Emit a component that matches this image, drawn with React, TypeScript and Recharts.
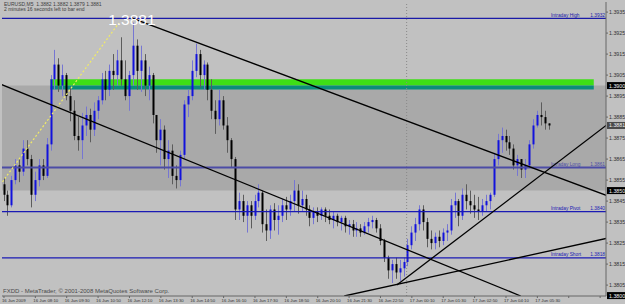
import {
  ComposedChart,
  Bar,
  XAxis,
  YAxis,
  ReferenceLine,
  ReferenceArea,
  ReferenceDot,
} from "recharts";

// EURUSD M5 bars (one slot per bar)
const opens = [
  1.3853, 1.3848, 1.3843, 1.3855, 1.3862, 1.3859, 1.387, 1.3865, 1.3848, 1.3855,
  1.3862, 1.3857, 1.3872, 1.3903, 1.391, 1.39, 1.3905, 1.3895, 1.3888, 1.3876,
  1.3874, 1.3881, 1.3886, 1.3879, 1.3888, 1.3893, 1.3903, 1.3898, 1.3907, 1.3905,
  1.3912, 1.3903, 1.3895, 1.3905, 1.3919, 1.3907, 1.3912, 1.39, 1.3905, 1.3886,
  1.3874, 1.3879, 1.3865, 1.3869, 1.3857, 1.3855, 1.3867, 1.3891, 1.3895, 1.3907,
  1.3915, 1.3905, 1.391, 1.3898, 1.3888, 1.3884, 1.3893, 1.3881, 1.3874, 1.3865,
  1.3841, 1.3845, 1.3838, 1.3843, 1.3838, 1.3845, 1.3849, 1.3834, 1.3831, 1.3841,
  1.3836, 1.3838, 1.3843, 1.3841, 1.3845, 1.385, 1.3843, 1.3846, 1.3841, 1.3837,
  1.384, 1.3838, 1.3841, 1.3838, 1.3836, 1.3838, 1.3835, 1.3837, 1.3833, 1.3834,
  1.3831, 1.3832, 1.383, 1.3833, 1.3835, 1.3836, 1.3832, 1.3826, 1.3818, 1.3812,
  1.3815, 1.3811, 1.3813, 1.3816, 1.3824, 1.383, 1.3834, 1.3841, 1.3835, 1.3827,
  1.3825, 1.3828, 1.3826, 1.383, 1.3831, 1.3843, 1.3845, 1.3838, 1.3848, 1.3845,
  1.3843, 1.3841, 1.384, 1.3843, 1.3845, 1.3848, 1.3865, 1.3874, 1.3876, 1.3873,
  1.387, 1.3862, 1.3865, 1.386, 1.3862, 1.3872, 1.3881, 1.3886, 1.3885, 1.3882,
];
const highs = [
  1.3856, 1.385, 1.3857, 1.3865, 1.3865, 1.3874, 1.3874, 1.3867, 1.3859, 1.3865,
  1.3865, 1.3875, 1.3905, 1.3917, 1.3913, 1.391, 1.3906, 1.3899, 1.3893, 1.3885,
  1.3887, 1.389, 1.3889, 1.3892, 1.3895, 1.3906, 1.3907, 1.391, 1.3915, 1.3917,
  1.3923, 1.3912, 1.3907, 1.393, 1.3922, 1.3919, 1.3915, 1.3909, 1.3906, 1.3886,
  1.3884, 1.3881, 1.3874, 1.3872, 1.3862, 1.3869, 1.3893, 1.3898, 1.3912, 1.392,
  1.3917, 1.3912, 1.3911, 1.3903, 1.3893, 1.3898, 1.3895, 1.3885, 1.3875, 1.3866,
  1.3849, 1.3848, 1.3845, 1.3845, 1.3848, 1.3853, 1.385, 1.3841, 1.3843, 1.3844,
  1.3843, 1.3846, 1.3847, 1.3848, 1.3855, 1.3853, 1.385, 1.3848, 1.3843, 1.3842,
  1.3842, 1.3842, 1.3842, 1.3841, 1.384, 1.3839, 1.3838, 1.3838, 1.3836, 1.3836,
  1.3835, 1.3834, 1.3835, 1.3837, 1.3838, 1.3837, 1.3834, 1.3827, 1.3819, 1.3817,
  1.3818, 1.3817, 1.3818, 1.3827, 1.3833, 1.3837, 1.3843, 1.3843, 1.3837, 1.3831,
  1.383, 1.3831, 1.3832, 1.3834, 1.3846, 1.3849, 1.3846, 1.3851, 1.3853, 1.385,
  1.3848, 1.3847, 1.3846, 1.3848, 1.3849, 1.3868, 1.3877, 1.388, 1.3879, 1.3876,
  1.3872, 1.3867, 1.3865, 1.3865, 1.3874, 1.3884, 1.3888, 1.3892, 1.3888, 1.3882,
];
const lows = [
  1.3845, 1.3838, 1.3842, 1.3853, 1.3854, 1.3857, 1.3862, 1.3842, 1.3845, 1.3852,
  1.3855, 1.3856, 1.3869, 1.3898, 1.3897, 1.3895, 1.3893, 1.3883, 1.3874, 1.3869,
  1.3865, 1.3876, 1.3873, 1.3876, 1.3884, 1.3891, 1.3893, 1.3895, 1.3898, 1.39,
  1.39, 1.3893, 1.3888, 1.39, 1.3898, 1.3897, 1.3895, 1.3893, 1.3882, 1.3868,
  1.3862, 1.386, 1.3856, 1.3853, 1.3851, 1.3852, 1.3865, 1.3885, 1.3893, 1.3904,
  1.3899, 1.3898, 1.3893, 1.3884, 1.3877, 1.3881, 1.3879, 1.3868, 1.3861, 1.3836,
  1.3836, 1.3835, 1.383, 1.3832, 1.3836, 1.3842, 1.383, 1.3826, 1.3827, 1.3831,
  1.3829, 1.3835, 1.3836, 1.3838, 1.384, 1.3839, 1.384, 1.3838, 1.3833, 1.3834,
  1.3835, 1.3836, 1.3835, 1.3834, 1.3832, 1.3833, 1.3831, 1.383, 1.3829, 1.3828,
  1.3828, 1.3828, 1.3829, 1.383, 1.3832, 1.383, 1.3824, 1.3816, 1.3808, 1.3806,
  1.3808, 1.3807, 1.3809, 1.3814, 1.3822, 1.3826, 1.3831, 1.3831, 1.3823, 1.3822,
  1.3822, 1.3823, 1.3824, 1.3826, 1.3829, 1.3837, 1.3833, 1.3836, 1.3841, 1.3839,
  1.3837, 1.3836, 1.3838, 1.384, 1.3841, 1.3847, 1.3862, 1.3868, 1.3869, 1.3867,
  1.386, 1.3857, 1.3856, 1.3856, 1.3861, 1.387, 1.388, 1.3881, 1.3879, 1.3879,
];
const closes = [
  1.3848, 1.3843, 1.3855, 1.3862, 1.3859, 1.387, 1.3865, 1.3848, 1.3855, 1.3862,
  1.3857, 1.3872, 1.3903, 1.391, 1.39, 1.3905, 1.3895, 1.3888, 1.3876, 1.3874,
  1.3881, 1.3886, 1.3879, 1.3888, 1.3893, 1.3903, 1.3898, 1.3907, 1.3905, 1.3912,
  1.3903, 1.3895, 1.3905, 1.3919, 1.3907, 1.3912, 1.39, 1.3905, 1.3886, 1.3874,
  1.3879, 1.3865, 1.3869, 1.3857, 1.3855, 1.3867, 1.3891, 1.3895, 1.3907, 1.3915,
  1.3905, 1.391, 1.3898, 1.3888, 1.3884, 1.3893, 1.3881, 1.3874, 1.3865, 1.3841,
  1.3845, 1.3838, 1.3843, 1.3838, 1.3845, 1.3849, 1.3834, 1.3831, 1.3841, 1.3836,
  1.3838, 1.3843, 1.3841, 1.3845, 1.385, 1.3843, 1.3846, 1.3841, 1.3837, 1.384,
  1.3838, 1.3841, 1.3838, 1.3836, 1.3838, 1.3835, 1.3837, 1.3833, 1.3834, 1.3831,
  1.3832, 1.383, 1.3833, 1.3835, 1.3836, 1.3832, 1.3826, 1.3818, 1.3812, 1.3815,
  1.3811, 1.3813, 1.3816, 1.3824, 1.383, 1.3834, 1.3841, 1.3835, 1.3827, 1.3825,
  1.3828, 1.3826, 1.383, 1.3831, 1.3843, 1.3845, 1.3838, 1.3848, 1.3845, 1.3843,
  1.3841, 1.384, 1.3843, 1.3845, 1.3848, 1.3865, 1.3874, 1.3876, 1.3873, 1.387,
  1.3862, 1.3865, 1.386, 1.3862, 1.3872, 1.3881, 1.3886, 1.3885, 1.3882, 1.3881,
];

const timeLabels = [
  "16 Jun 2009", "16 Jun 08:10", "16 Jun 09:30", "16 Jun 10:50", "16 Jun 12:10",
  "16 Jun 13:30", "16 Jun 14:50", "16 Jun 16:10", "16 Jun 17:30", "16 Jun 18:50",
  "16 Jun 20:10", "16 Jun 21:30", "16 Jun 22:50", "17 Jun 00:10", "17 Jun 01:30",
  "17 Jun 02:50", "17 Jun 04:10", "17 Jun 05:30",
];
const barsPerLabel = 8;
const slotCount = 154; // empty slots to the right of the last bar

const priceTicks = [
  1.3935, 1.3925, 1.3915, 1.3905, 1.3895, 1.3885, 1.3875, 1.3865, 1.3855, 1.3845,
  1.3835, 1.3825, 1.3815, 1.3805,
];
const priceMin = 1.37998;
const priceMax = 1.39398;

// pivot levels drawn by the indicator
const levelNames = ["Intraday High", "Intraday Long", "Intraday Pivot", "Intraday Short"];
const levelPrices = [1.3932, 1.3861, 1.384, 1.3818];

// grey rectangle object and the green zone above it
const boxTop = 1.39;
const boxBottom = 1.385;
const zoneFrom = 12.25;
const zoneTo = 149.9;
const zoneLime = [1.3903, 1.39];
const zoneTeal = [1.39, 1.38981];

// trend lines as [bar index, price] pairs
const trendFrom = [
  [-0.5, 1.39008],
  [32.9, 1.39321],
  [100.0, 1.3805],
  [86.7, 1.37998],
];
const trendTo = [
  [131.4, 1.37998],
  [153.5, 1.38474],
  [153.5, 1.38817],
  [153.5, 1.38274],
];
const projFrom = [-0.5, 1.38526];
const projTo = [29.6, 1.39298];
const daySeparator = 102.5;

const bidPrice = 1.3881;
const axisBoxes = [1.39, 1.385, 1.38];

const data = Array.from({ length: slotCount }, (_, i) =>
  i < closes.length
    ? {
        i,
        open: opens[i],
        high: highs[i],
        low: lows[i],
        close: closes[i],
        range: [lows[i], highs[i]],
      }
    : { i, range: null }
);

function Candle(props: any) {
  const { x, y, width, height, payload } = props;
  if (!payload || payload.high == null) return null;
  const { open, close, high, low } = payload;
  const top0 = Math.min(y, y + height);
  const h = Math.abs(height);
  const span = high - low || 1e-9;
  const toY = (p: number) => top0 + ((high - p) / span) * h;
  const up = close >= open;
  const bTop = toY(Math.max(open, close));
  const bBot = toY(Math.min(open, close));
  const cx = Math.round(x + width / 2) + 0.5;
  return (
    <g>
      <line
        x1={cx}
        x2={cx}
        y1={top0}
        y2={top0 + h}
        stroke={up ? "#7676d2" : "#5c5c5c"}
        strokeWidth={1}
      />
      <rect
        x={cx - 1}
        y={bTop}
        width={2}
        height={Math.max(bBot - bTop, 1)}
        fill={up ? "#1212dc" : "#000000"}
      />
    </g>
  );
}

function TimeTick(props: any) {
  const { x, y, payload } = props;
  const label = timeLabels[payload.value / barsPerLabel] ?? "";
  return (
    <text x={x - 2} y={y + 3.6} fontSize={4.3} fill="#333">
      {label}
    </text>
  );
}

function LevelLabel(props: any) {
  const { viewBox, name, value, color } = props;
  if (!viewBox) return null;
  const { x, y, width } = viewBox;
  return (
    <g fontSize={4.8} fill={color}>
      <text x={x + width - 55} y={y - 1.5}>
        {name}
      </text>
      <text x={x + width - 1} y={y - 1.5} textAnchor="end">
        {value}
      </text>
    </g>
  );
}

function PriceBox(props: any) {
  const { viewBox, text, bg } = props;
  if (!viewBox) return null;
  const { x, y, width } = viewBox;
  return (
    <g>
      <rect x={x + width + 1} y={y - 3.5} width={19} height={7} fill={bg} />
      <text x={x + width + 3} y={y + 2} fontSize={5.3} fill="#f0f0f0">
        {text}
      </text>
    </g>
  );
}

function BigPrice(props: any) {
  const { viewBox, text } = props;
  if (!viewBox) return null;
  const cx = viewBox.x + (viewBox.width || 0) / 2;
  const cy = viewBox.y + (viewBox.height || 0) / 2;
  return (
    <text x={cx} y={cy + 7} textAnchor="middle" fontSize={15.5} fill="#ffffff">
      {text}
    </text>
  );
}

const levelColors = ["#1a1aa8", "#4c4ca6", "#1a1ab4", "#1a1ab4"];

export default function App() {
  return (
    <div
      style={{
        position: "relative",
        width: 625,
        height: 304,
        background: "#c1c1c1",
        fontFamily: "'Liberation Sans', Arial, sans-serif",
        overflow: "hidden",
      }}
    >
      <style>{"body{margin:0}"}</style>
      <ComposedChart
        width={625}
        height={304}
        data={data}
        margin={{ top: 2, right: 0, bottom: 0, left: 2 }}
      >
        <XAxis
          xAxisId="c"
          dataKey="i"
          type="category"
          interval={barsPerLabel - 1}
          height={8}
          tick={(p: any) => <TimeTick {...p} />}
          tickSize={2}
          tickMargin={0}
          axisLine={{ stroke: "#666" }}
          tickLine={{ stroke: "#666" }}
        />
        <XAxis
          xAxisId="n"
          type="number"
          domain={[-0.5, slotCount - 0.5]}
          allowDataOverflow
          hide
        />
        <YAxis
          orientation="right"
          width={19}
          domain={[priceMin, priceMax]}
          allowDataOverflow
          ticks={priceTicks}
          interval={0}
          tickFormatter={(v: number) => v.toFixed(4)}
          tick={{ fontSize: 5.3, fill: "#333" }}
          tickSize={2}
          tickMargin={1}
          axisLine={{ stroke: "#666" }}
          tickLine={{ stroke: "#666" }}
        />

        {/* grey rectangle */}
        <ReferenceArea
          xAxisId="n"
          y1={boxBottom}
          y2={boxTop}
          fill="#a9a9a9"
          fillOpacity={1}
          stroke="none"
          ifOverflow="hidden"
        />
        {/* green zone */}
        <ReferenceArea
          xAxisId="n"
          x1={zoneFrom}
          x2={zoneTo}
          y1={zoneLime[1]}
          y2={zoneLime[0]}
          fill="#3ede16"
          fillOpacity={1}
          stroke="none"
        />
        <ReferenceArea
          xAxisId="n"
          x1={zoneFrom}
          x2={zoneTo}
          y1={zoneTeal[1]}
          y2={zoneTeal[0]}
          fill="#0b8c7a"
          fillOpacity={1}
          stroke="none"
        />

        <ReferenceLine
          xAxisId="n"
          x={daySeparator}
          stroke="#8a8a8a"
          strokeDasharray="1 2"
        />

        <Bar
          xAxisId="c"
          dataKey="range"
          barSize={3}
          shape={(p: any) => <Candle {...p} />}
          isAnimationActive={false}
        />

        {/* pivot levels */}
        {levelPrices.map((p, k) => (
          <ReferenceLine
            key={levelNames[k]}
            xAxisId="n"
            y={p}
            stroke={levelColors[k]}
            strokeWidth={k === 1 ? 2 : 1.2}
            label={(lp: any) => (
              <LevelLabel
                {...lp}
                name={levelNames[k]}
                value={p.toFixed(4)}
                color={levelColors[k]}
              />
            )}
          />
        ))}

        {/* projection line */}
        <ReferenceLine
          xAxisId="n"
          segment={[
            { x: projFrom[0], y: projFrom[1] },
            { x: projTo[0], y: projTo[1] },
          ]}
          stroke="#f2ec66"
          strokeWidth={1.2}
          strokeDasharray="2 2"
          ifOverflow="hidden"
        />

        {/* trend lines */}
        {trendFrom.map((a, k) => (
          <ReferenceLine
            key={"t" + k}
            xAxisId="n"
            segment={[
              { x: a[0], y: a[1] },
              { x: trendTo[k][0], y: trendTo[k][1] },
            ]}
            stroke="#000"
            strokeWidth={1.3}
            ifOverflow="hidden"
          />
        ))}

        <ReferenceDot
          xAxisId="n"
          x={trendFrom[1][0]}
          y={levelPrices[0]}
          r={1}
          fill="none"
          stroke="none"
          label={(lp: any) => <BigPrice {...lp} text={bidPrice.toFixed(4)} />}
        />

        {/* price boxes on the scale */}
        {axisBoxes.map((p) => (
          <ReferenceLine
            key={"b" + p}
            xAxisId="n"
            y={p}
            stroke="none"
            ifOverflow="visible"
            label={(lp: any) => <PriceBox {...lp} text={p.toFixed(4)} bg="#000" />}
          />
        ))}
        <ReferenceLine
          xAxisId="n"
          y={bidPrice}
          stroke="none"
          label={(lp: any) => (
            <PriceBox {...lp} text={bidPrice.toFixed(4)} bg="#4a4a4a" />
          )}
        />
      </ComposedChart>

      <div
        style={{
          position: "absolute",
          left: 4,
          top: 2,
          fontSize: 5,
          lineHeight: "5px",
          color: "#3e3e3e",
          whiteSpace: "pre",
        }}
      >
        {"EURUSD,M5  1.3882 1.3882 1.3879 1.3881"}
        <br />
        {"2 minutes 16 seconds left to bar end"}
      </div>
      <div
        style={{
          position: "absolute",
          left: 3,
          top: 288,
          fontSize: 6,
          lineHeight: "6px",
          color: "#4a4a4a",
          whiteSpace: "pre",
        }}
      >
        FXDD - MetaTrader, © 2001-2008 MetaQuotes Software Corp.
      </div>
    </div>
  );
}
